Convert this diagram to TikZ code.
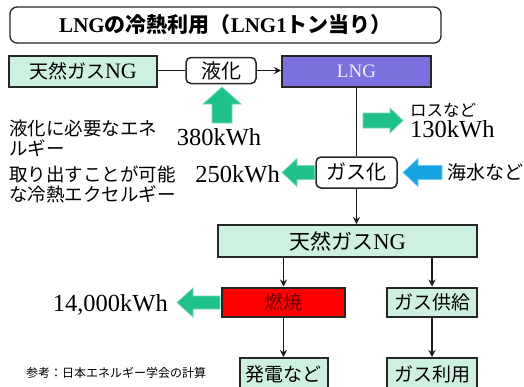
\documentclass[tikz,border=0pt]{standalone}
\usepackage{fontspec}
\setmainfont{Liberation Serif}
\newfontfamily\jp{Noto Sans CJK JP}
\usetikzlibrary{arrows.meta}
\definecolor{mint}{RGB}{206,240,224}
\definecolor{lngpurple}{RGB}{122,112,222}
\definecolor{grarrow}{RGB}{32,192,140}
\definecolor{grborder}{RGB}{120,215,180}
\definecolor{blarrow}{RGB}{24,164,226}
\definecolor{blborder}{RGB}{110,200,240}
\definecolor{darkred}{RGB}{110,0,0}
\tikzset{
  sqbox/.style={draw=black!85, line width=2pt, fill=mint, inner sep=0pt, font=\fontsize{19}{20}\selectfont\jp},
  rdbox/.style={draw=black!85, line width=1.5pt, fill=white, rounded corners=5pt, inner sep=0pt, font=\fontsize{20}{22}\selectfont\jp},
  conn/.style={line width=1.4pt, black!90},
  arr/.style={conn, -{Stealth[length=7pt,width=7pt]}},
  garrow/.style={fill=grarrow, draw=grborder, line width=0.8pt},
  barrow/.style={fill=blarrow, draw=blborder, line width=0.8pt},
  num/.style={inner sep=0pt, font=\fontsize{24.5}{26}\selectfont},
  jtxt/.style={inner sep=0pt, align=left, font=\fontsize{18.5}{20}\selectfont\jp}
}
\begin{document}
\begin{tikzpicture}[x=1pt,y=-1pt]
\useasboundingbox (0,0) rectangle (524,386);
\clip (0,0) rectangle (524,386);
% title
\node[draw=black!85, line width=1.3pt, rounded corners=7pt, minimum width=431pt, minimum height=36pt, inner sep=0pt,
      font=\fontsize{21}{22}\selectfont\bfseries] (title) at (225.5,25)
  {LNG{\jp の冷熱利用（}LNG1{\jp トン当り）}};
% top row
\node[sqbox, minimum width=148pt, minimum height=31pt] (ng1) at (83,71.5) {天然ガス{\rmfamily\fontsize{22}{22}\selectfont NG}};
\node[rdbox, minimum width=70pt, minimum height=26pt] (liq) at (221,70.5) {液化};
\node[sqbox, fill=lngpurple, minimum width=149pt, minimum height=31pt, text=white!90!lngpurple, font=\fontsize{19}{20}\selectfont\rmfamily] (lng) at (356.5,71.5) {LNG};
\draw[conn] (ng1.east |- liq.west) -- (liq.west);
\draw[arr] (liq.east) -- (liq.east -| lng.west);
% up arrow
\coordinate (upbase) at (222,123);
\draw[garrow] (upbase) ++(-10,0) -- ++(0,-19) -- ++(-9,0) -- (222,87) -- (241,104) -- ++(-9,0) -- ++(0,19) -- cycle;
\node[num, anchor=base] (n380) at (219,145) {380kWh};
\node[jtxt, anchor=west] (t1) at (9,138) {液化に必要なエネ\\ルギー};
% gasification
\node[rdbox, minimum width=81pt, minimum height=31pt] (gas) at (356.5,172.5) {ガス化};
\draw[conn] (gas.north |- lng.south) -- (gas.north);
% loss arrow
\draw[garrow] (363,113) -- (390,113) -- (390,108) -- (403,120.5) -- (390,133) -- (390,128) -- (363,128) -- cycle;
\node[inner sep=0pt, anchor=west, font=\fontsize{16.5}{18}\selectfont\jp] (loss) at (410,110) {ロスなど};
\node[num, anchor=base west] (n130) at (410,137) {130kWh};
% left green arrow from gasification
\draw[garrow] (gas.west) ++(-1,-7) -- (297,165.5) -- (297,158.5) -- (282,172.5) -- (297,186.5) -- (297,179.5) -- (315,179.5) -- cycle;
\node[num, anchor=base east] (n250) at (280,182) {250kWh};
\node[jtxt, anchor=west] (t2) at (9,184) {取り出すことが可能\\な冷熱エクセルギー};
% blue arrow
\draw[barrow] (442,165.5) -- (418,165.5) -- (418,158.5) -- (403,172.5) -- (418,186.5) -- (418,179.5) -- (442,179.5) -- cycle;
\node[inner sep=0pt, anchor=west, font=\fontsize{19}{20}\selectfont\jp] (sea) at (447,172) {海水など};
% natural gas lower
\node[sqbox, minimum width=259pt, minimum height=32pt, font=\fontsize{21}{22}\selectfont\jp] (ng2) at (347.5,241) {天然ガス{\rmfamily\fontsize{22.5}{22}\selectfont NG}};
\draw[arr] (gas.south) -- (gas.south |- ng2.north);
% burn / supply
\node[sqbox, fill=red, minimum width=123pt, minimum height=29pt, text=darkred] (burn) at (283.5,302) {燃焼};
\node[sqbox, minimum width=90pt, minimum height=29pt] (supply) at (432,302) {ガス供給};
\draw[arr] (burn.north |- ng2.south) -- (burn.north);
\draw[arr] (supply.north |- ng2.south) -- (supply.north);
% output arrow
\draw[garrow] (220,296) -- (193,296) -- (193,288) -- (177,302.5) -- (193,317) -- (193,309) -- (220,309) -- cycle;
\node[num, anchor=base east] (n14000) at (168,311) {14,000kWh};
% bottom
\node[sqbox, minimum width=88pt, minimum height=32pt] (power) at (283.5,374) {発電など};
\node[sqbox, minimum width=90pt, minimum height=32pt] (use) at (432,374) {ガス利用};
\draw[arr] (burn.south) -- (power.north);
\draw[arr] (supply.south) -- (use.north);
\node[inner sep=0pt, anchor=west, font=\fontsize{12}{13}\selectfont\jp] (ref) at (26,373) {参考：日本エネルギー学会の計算};
\end{tikzpicture}
\end{document}
